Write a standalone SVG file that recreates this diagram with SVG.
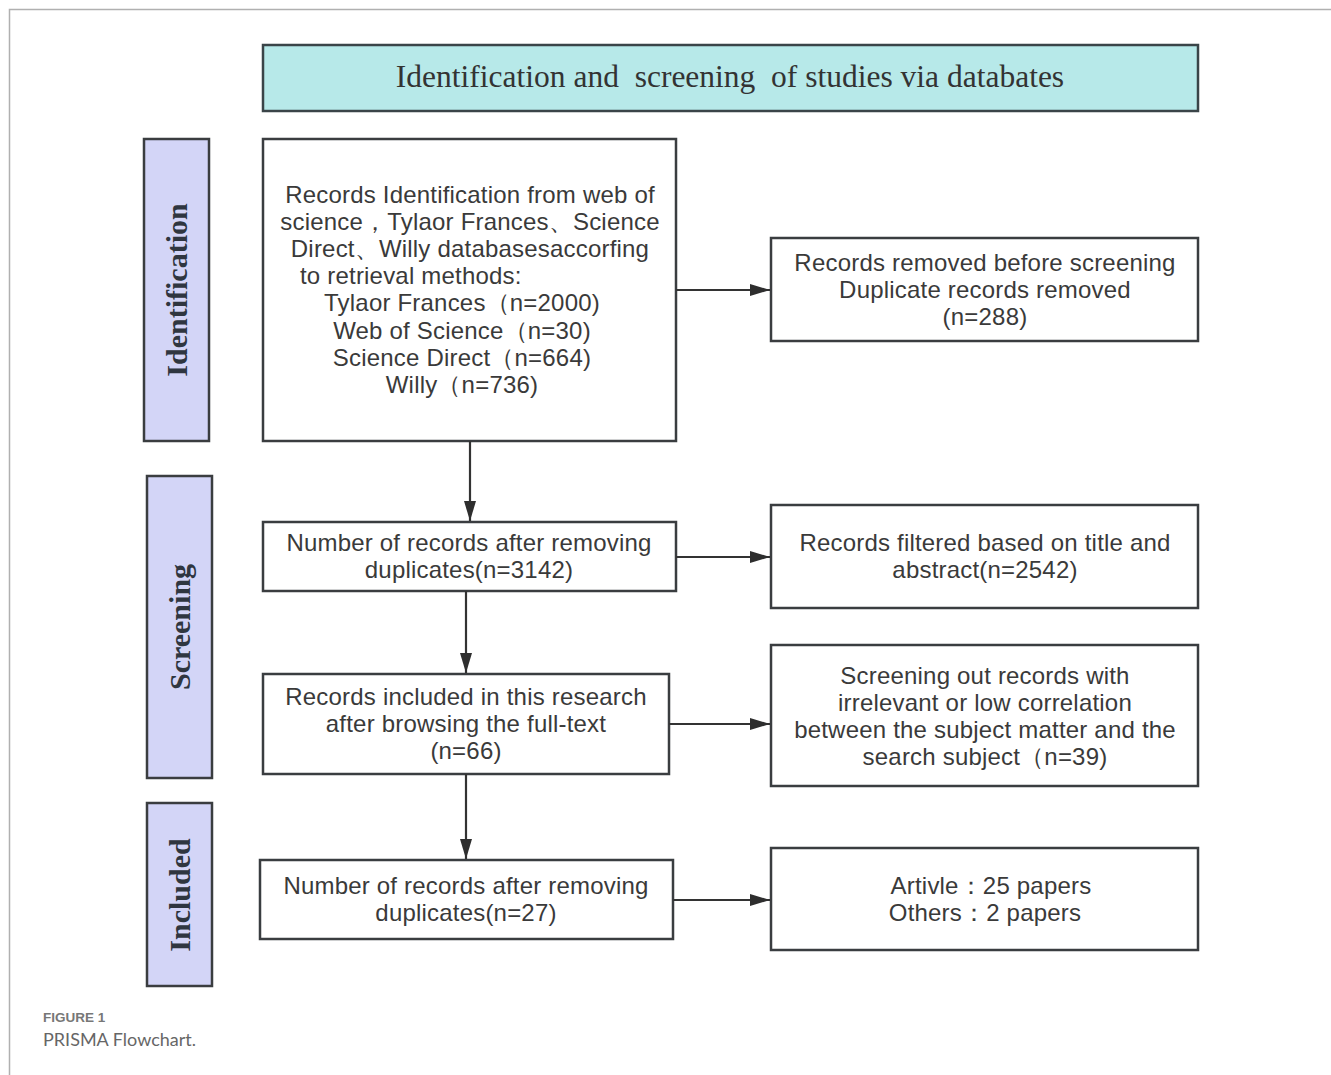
<svg xmlns="http://www.w3.org/2000/svg" width="1331" height="1075" viewBox="0 0 1331 1075">
<defs>
<style>
.box{fill:#fff;stroke:#3a3d40;stroke-width:2.5}
.title{fill:#b7e9e9;stroke:#3a4448;stroke-width:2.5}
.stage{fill:#d3d5f7;stroke:#3a3d40;stroke-width:2.5}
.t{font-family:"Liberation Sans",Arial,sans-serif;font-size:24px;letter-spacing:0.2px;fill:#3a3a3a;text-anchor:middle}
.tl{font-family:"Liberation Sans",Arial,sans-serif;font-size:24px;letter-spacing:0.2px;fill:#3a3a3a;text-anchor:start}
.st{font-family:"Liberation Serif","DejaVu Serif",serif;font-size:30px;font-weight:bold;fill:#2f3640;text-anchor:middle}
.conn{stroke:#333;stroke-width:2.2;fill:none}
</style>
<marker id="ah" viewBox="0 0 20 12" refX="20" refY="6" markerWidth="20" markerHeight="12" markerUnits="userSpaceOnUse" orient="auto">
<path d="M0,0 L20,6 L0,12 Z" fill="#2e2e2e"/>
</marker>
</defs>
<rect width="1331" height="1075" fill="#fff"/>
<path d="M9.5,1075 V9.5 H1331" fill="none" stroke="#b0b0b0" stroke-width="1.5"/>

<g id="title">
<rect class="title" x="263" y="45" width="935" height="66"/>
<text x="730" y="87" font-family="Liberation Serif,DejaVu Serif,serif" font-size="31.5" fill="#333" text-anchor="middle" xml:space="preserve">Identification and  screening  of studies via databates</text>
</g>

<g id="stage-identification">
<rect class="stage" x="144" y="139" width="65" height="302"/>
<text class="st" transform="translate(187,290) rotate(-90)">Identification</text>
</g>
<g id="stage-screening">
<rect class="stage" x="147" y="476" width="65" height="302"/>
<text class="st" transform="translate(190,627) rotate(-90)">Screening</text>
</g>
<g id="stage-included">
<rect class="stage" x="147" y="803" width="65" height="183"/>
<text class="st" transform="translate(190,895) rotate(-90)">Included</text>
</g>

<g id="records-identified">
<rect class="box" x="263" y="139" width="413" height="302"/>
<text class="t" x="470" y="203">Records Identification from web of</text>
<text class="t" x="470" y="230">science，Tylaor Frances、Science</text>
<text class="t" x="470" y="257">Direct、Willy databasesaccorfing</text>
<text class="tl" x="300" y="284">to retrieval methods:</text>
<text class="t" x="462" y="311" xml:space="preserve">Tylaor Frances（n=2000)</text>
<text class="t" x="462" y="339" xml:space="preserve">Web of Science（n=30)</text>
<text class="t" x="462" y="366" xml:space="preserve">Science Direct（n=664)</text>
<text class="t" x="462" y="393" xml:space="preserve">Willy（n=736)</text>
</g>

<g id="records-removed">
<rect class="box" x="771" y="238" width="427" height="103"/>
<text class="t" x="985" y="271">Records removed before screening</text>
<text class="t" x="985" y="298">Duplicate records removed</text>
<text class="t" x="985" y="325">(n=288)</text>
</g>

<g id="after-duplicates">
<rect class="box" x="263" y="522" width="413" height="69"/>
<text class="t" x="469" y="551">Number of records after removing</text>
<text class="t" x="469" y="578">duplicates(n=3142)</text>
</g>

<g id="filtered">
<rect class="box" x="771" y="505" width="427" height="103"/>
<text class="t" x="985" y="551">Records filtered based on title and</text>
<text class="t" x="985" y="578">abstract(n=2542)</text>
</g>

<g id="included-fulltext">
<rect class="box" x="263" y="674" width="406" height="100"/>
<text class="t" x="466" y="705">Records included  in this research</text>
<text class="t" x="466" y="732">after browsing the full-text</text>
<text class="t" x="466" y="759">(n=66)</text>
</g>

<g id="screened-out">
<rect class="box" x="771" y="645" width="427" height="141"/>
<text class="t" x="985" y="684">Screening out records with</text>
<text class="t" x="985" y="711">irrelevant or low correlation</text>
<text class="t" x="985" y="738">between the subject matter and the</text>
<text class="t" x="985" y="765" xml:space="preserve">search subject（n=39)</text>
</g>

<g id="final">
<rect class="box" x="260" y="860" width="413" height="79"/>
<text class="t" x="466" y="894">Number of records after removing</text>
<text class="t" x="466" y="921">duplicates(n=27)</text>
</g>

<g id="types">
<rect class="box" x="771" y="848" width="427" height="102"/>
<text class="t" x="991" y="894" xml:space="preserve">Artivle：25 papers</text>
<text class="t" x="985" y="921" xml:space="preserve">Others：2 papers</text>
</g>

<g id="connectors">
<line class="conn" x1="676" y1="290" x2="770" y2="290" marker-end="url(#ah)"/>
<line class="conn" x1="470" y1="441" x2="470" y2="521" marker-end="url(#ah)"/>
<line class="conn" x1="676" y1="557" x2="770" y2="557" marker-end="url(#ah)"/>
<line class="conn" x1="466" y1="591" x2="466" y2="673" marker-end="url(#ah)"/>
<line class="conn" x1="669" y1="724" x2="770" y2="724" marker-end="url(#ah)"/>
<line class="conn" x1="466" y1="774" x2="466" y2="859" marker-end="url(#ah)"/>
<line class="conn" x1="673" y1="900" x2="770" y2="900" marker-end="url(#ah)"/>
</g>

<g id="caption">
<text x="43" y="1022" font-family="Liberation Sans,Arial,sans-serif" font-size="13.5" font-weight="bold" fill="#777">FIGURE 1</text>
<text x="43" y="1046" font-family="Lato,Liberation Sans,sans-serif" font-size="18" fill="#666">PRISMA Flowchart.</text>
</g>
</svg>
